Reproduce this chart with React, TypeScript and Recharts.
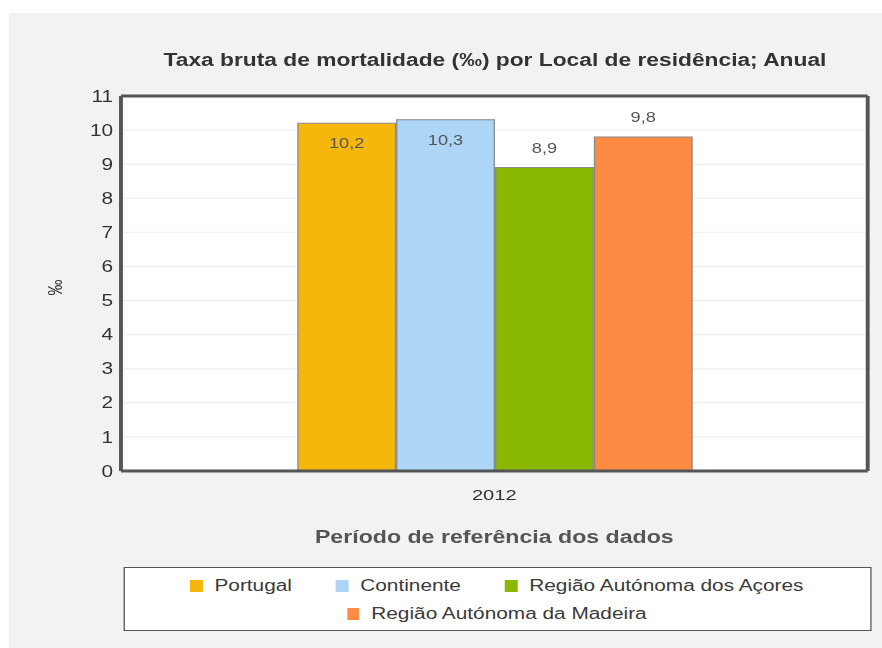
import React from 'react';
import {
  BarChart,
  Bar,
  XAxis,
  YAxis,
  CartesianGrid,
  Legend,
  LabelList,
} from 'recharts';

// ---- data ----
const categories = ['2012'];
const seriesNames = [
  'Portugal',
  'Continente',
  'Região Autónoma dos Açores',
  'Região Autónoma da Madeira',
];
const seriesKeys = ['portugal', 'continente', 'acores', 'madeira'];
const portugal = [10.2];
const continente = [10.3];
const acores = [8.9];
const madeira = [9.8];
const yTicks = [0, 1, 2, 3, 4, 5, 6, 7, 8, 9, 10, 11];

const title = 'Taxa bruta de mortalidade (‰) por Local de residência; Anual';
const xTitle = 'Período de referência dos dados';
const yTitle = '‰';

// ---- styles ----
const colors = ['#f5b70c', '#acd5f6', '#8ab800', '#fd8b44'];
const labelPositions: any[] = ['insideTop', 'insideTop', 'top', 'top'];
const FONT = '"Liberation Sans", Arial, sans-serif';
const W = 678;
const H = 648;
const S = 882 / W;

const seriesValues = [portugal, continente, acores, madeira];
const data = categories.map((c, i) => {
  const row: any = { year: c };
  seriesKeys.forEach((k, j) => {
    row[k] = seriesValues[j][i];
  });
  return row;
});

const fmt = (v: any) => String(v).replace('.', ',');

const LegendBox = (props: any) => {
  const payload = [...(props.payload || [])].sort(
    (a: any, b: any) => seriesNames.indexOf(a.value) - seriesNames.indexOf(b.value)
  );
  const rows = [payload.slice(0, 3), payload.slice(3)];
  return (
    <div
      style={{
        boxSizing: 'border-box',
        width: '100%',
        height: '100%',
        background: '#fff',
        border: '1px solid #555',
        paddingTop: 4,
      }}
    >
      {rows.map((row: any[], ri: number) => (
        <div
          key={ri}
          style={{
            display: 'flex',
            justifyContent: 'center',
            alignItems: 'center',
            height: 28,
          }}
        >
          {row.map((item: any, ii: number) => (
            <div
              key={ii}
              style={{
                display: 'flex',
                alignItems: 'center',
                marginLeft: ii === 0 ? 0 : 34,
              }}
            >
              <span
                style={{
                  display: 'inline-block',
                  width: 9.5,
                  height: 12,
                  background: item.color,
                  marginRight: 9,
                }}
              />
              <span style={{ fontSize: 16, color: '#3a3a3a' }}>{item.value}</span>
            </div>
          ))}
        </div>
      ))}
    </div>
  );
};

const YTitle = (props: any) => {
  const vb = props.viewBox || {};
  const cx = vb.x + 42;
  const cy = vb.y + vb.height / 2 + 4;
  return (
    <text
      x={cx}
      y={cy}
      transform={`rotate(-90 ${cx} ${cy})`}
      textAnchor="middle"
      dominantBaseline="central"
      fontSize={16}
      fill="#333"
    >
      {yTitle}
    </text>
  );
};

export default function App() {
  const frame = { stroke: '#555', strokeWidth: 3 };
  return (
    <div
      style={{
        position: 'absolute',
        left: 0,
        top: 0,
        width: 882,
        height: 648,
        background: '#fff',
        overflow: 'hidden',
        fontFamily: FONT,
      }}
    >
      <div
        style={{
          position: 'absolute',
          left: 9,
          top: 13,
          right: 0,
          bottom: 0,
          background: '#f2f2f2',
        }}
      />
      <div
        style={{
          position: 'absolute',
          left: 0,
          top: 0,
          width: W,
          height: H,
          transform: `scaleX(${S})`,
          transformOrigin: '0 0',
        }}
      >
        <div
          style={{
            position: 'absolute',
            left: 93,
            width: 575,
            top: 49,
            textAlign: 'center',
            fontSize: 17.5,
            fontWeight: 'bold',
            color: '#333',
            lineHeight: '22px',
          }}
        >
          {title}
        </div>
        <BarChart
          width={W}
          height={H}
          data={data}
          margin={{ top: 95, right: 10, bottom: 97, left: 0 }}
          barSize={75}
          barGap={1}
        >
          <CartesianGrid vertical={false} stroke="#ececec" fill="#ffffff" />
          <XAxis
            dataKey="year"
            height={80}
            tickLine={false}
            tickSize={0}
            tickMargin={18}
            axisLine={frame}
            tick={{ fontSize: 15.5, fill: '#333' }}
            label={{
              value: xTitle,
              position: 'insideBottom',
              offset: 8,
              fontSize: 17.8,
              fontWeight: 'bold',
              fill: '#555',
            }}
          />
          <XAxis
            xAxisId="top"
            orientation="top"
            dataKey="year"
            height={1}
            tick={false}
            tickLine={false}
            axisLine={frame}
          />
          <YAxis
            width={93}
            domain={[0, 11]}
            ticks={yTicks}
            interval={0}
            tickLine={false}
            tickSize={0}
            tickMargin={6}
            axisLine={frame}
            tick={{ fontSize: 16, fill: '#333' }}
            label={<YTitle />}
          />
          <YAxis
            yAxisId="right"
            orientation="right"
            width={1}
            domain={[0, 11]}
            ticks={yTicks}
            tick={false}
            tickLine={false}
            axisLine={frame}
          />
          <Legend
            layout="horizontal"
            verticalAlign="middle"
            align="center"
            content={<LegendBox />}
            wrapperStyle={{
              left: 94.5,
              top: 567,
              width: 575,
              height: 64,
            }}
          />
          {seriesKeys.map((k, i) => (
            <Bar
              key={k}
              dataKey={k}
              name={seriesNames[i]}
              fill={colors[i]}
              stroke="#8a8a8a"
              strokeWidth={1}
              isAnimationActive={false}
            >
              <LabelList
                dataKey={k}
                position={labelPositions[i]}
                offset={15}
                formatter={fmt}
                fontSize={14}
                fill="#555"
              />
            </Bar>
          ))}
        </BarChart>
      </div>
    </div>
  );
}
